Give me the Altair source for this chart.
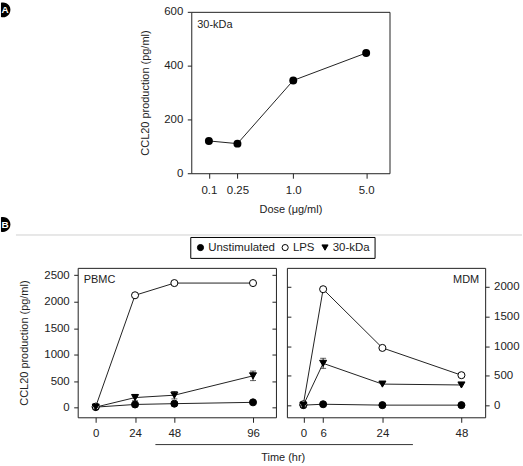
import altair as alt
import pandas as pd

# ---------------- data ----------------
# Panel A: dose response (30-kDa)
dose = [0.1, 0.25, 1.0, 5.0]
dose_ccl20 = [120, 110, 345, 447]

# Panel B
treatments = ["Unstimulated", "LPS", "30-kDa"]
treat_shapes = ["circle", "circle", "triangle-down"]
treat_fills = ["black", "white", "black"]
treat_strokes = ["black", "black", "black"]

pbmc_time = [0, 24, 48, 96]
pbmc_unstim = [10, 60, 75, 100]
pbmc_lps = [20, 2120, 2350, 2350]
pbmc_kda = [10, 190, 235, 600]
pbmc_kda_err = [0, 60, 70, 90]

mdm_time = [0, 6, 24, 48]
mdm_unstim = [5, 20, 5, 5]
mdm_lps = [20, 1960, 970, 510]
mdm_kda = [5, 710, 360, 345]
mdm_kda_err = [0, 85, 0, 0]

a_yticks = [0, 200, 400, 600]
pbmc_yticks = [0, 500, 1000, 1500, 2000, 2500]
mdm_yticks = [0, 500, 1000, 1500, 2000]

# ---------------- styling ----------------
FONT = "Liberation Sans"
TXT = "#222222"
LINE = "#222222"
DISC = "M-0.27,-0.963 A1,1 0 1,1 -0.27,0.963 Z"

one = pd.DataFrame({"k": [0]})


def panel_df(time, unstim, lps, kda):
    rows = []
    for name, vals in zip(treatments, [unstim, lps, kda]):
        for t, v in zip(time, vals):
            rows.append({"time": t, "value": v, "treatment": name})
    return pd.DataFrame(rows)


def err_df(time, kda, err):
    rows = []
    for t, v, e in zip(time, kda, err):
        if e > 0:
            rows.append({"time": t, "lo": v - e, "hi": v + e})
    return pd.DataFrame(rows)


legend = alt.Legend(
    orient="none", legendX=113, legendY=226, direction="horizontal", columns=3,
    title=None, labelFont=FONT, labelFontSize=11.5, labelColor=TXT,
    symbolSize=38, symbolStrokeWidth=1,
    strokeColor="black", fillColor="white", padding=4.5, columnPadding=4,
    labelOffset=2,
)
shape_enc = alt.Shape("treatment:N", scale=alt.Scale(domain=treatments, range=treat_shapes), legend=legend)
fill_enc = alt.Fill("treatment:N", scale=alt.Scale(domain=treatments, range=treat_fills), legend=legend)
stroke_enc = alt.Stroke("treatment:N", scale=alt.Scale(domain=treatments, range=treat_strokes), legend=legend)


def disc(x, y, letter):
    d = alt.Chart(one).mark_point(shape=DISC, size=225, filled=True, color="black",
                                  opacity=1, strokeWidth=0).encode(x=alt.value(x), y=alt.value(y))
    t = alt.Chart(one).mark_text(text=letter, color="white", fontWeight="bold", fontSize=10,
                                 align="left", baseline="middle", font=FONT).encode(
        x=alt.value(x - 1.5), y=alt.value(y + 0.5))
    return [d, t]


def label(text, x, y, align="left"):
    return alt.Chart(one).mark_text(text=text, font=FONT, fontSize=11, color=TXT,
                                    align=align, baseline="middle").encode(x=alt.value(x), y=alt.value(y))


# ---------------- panel A ----------------
dfa = pd.DataFrame({"dose": dose, "ccl20": dose_ccl20})
xa = alt.X("dose:Q",
           scale=alt.Scale(type="symlog", constant=0.08, domain=[0.0438, 8.26], nice=False, zero=False),
           axis=alt.Axis(values=dose, title="Dose (\u03bcg/ml)", tickSize=5, labelPadding=6.5,
                         titlePadding=7.5,
                         labelExpr="datum.value < 1 ? format(datum.value, '~g') : format(datum.value, '.1f')"))
ya = alt.Y("ccl20:Q", scale=alt.Scale(domain=[0, 600], nice=False),
           axis=alt.Axis(values=a_yticks, title="CCL20 production (pg/ml)", tickSize=4, format="d",
                         labelPadding=4.5, titlePadding=13.5))
a_line = alt.Chart(dfa).mark_line(color=LINE, strokeWidth=1).encode(x=xa, y=ya)
a_pts = alt.Chart(dfa).mark_point(filled=True, color="black", size=64, opacity=1).encode(x=xa, y=ya)
chart_a = alt.layer(a_line, a_pts, label("30-kDa", 6, 13)).properties(width=199, height=162)

spacer = alt.layer(*disc(-75, -2, "A")).properties(
    width=60, height=1, view=alt.ViewBackground(stroke="transparent"))

row_a = alt.hconcat(spacer, chart_a, spacing=0)


# ---------------- panel B ----------------
def bpanel(df, edf, xdom, xticks, ydom, yticks, left_labels, extras):
    x = alt.X("time:Q", scale=alt.Scale(domain=xdom, nice=False, zero=False),
              axis=alt.Axis(values=xticks, title=None, tickSize=5, labelPadding=5))
    ysc = alt.Scale(domain=ydom, nice=False, zero=False)
    if left_labels:
        ax_main = alt.Axis(orient="left", values=yticks, title="CCL20 production (pg/ml)", format="d",
                           tickSize=4, labelPadding=4.5, titlePadding=14.5)
        ax_in = alt.Axis(orient="right", values=yticks, labels=False, title=None,
                         tickSize=4, offset=-4)
    else:
        ax_main = alt.Axis(orient="right", values=yticks, title=None, tickSize=4, labelPadding=4.5,
                           format="d")
        ax_in = alt.Axis(orient="left", values=yticks, labels=False, title=None,
                         tickSize=4, offset=-4)
    lines = alt.Chart(df).mark_line(color=LINE, strokeWidth=1).encode(
        x=x, y=alt.Y("value:Q", scale=ysc, axis=ax_main), detail="treatment:N")
    rule = alt.Chart(edf).mark_rule(color=LINE, strokeWidth=1).encode(
        x=x, y=alt.Y("lo:Q", scale=ysc, axis=None), y2="hi:Q")
    cap_hi = alt.Chart(edf).mark_tick(orient="horizontal", size=6, thickness=1, color=LINE).encode(
        x=x, y=alt.Y("hi:Q", scale=ysc, axis=None))
    cap_lo = alt.Chart(edf).mark_tick(orient="horizontal", size=6, thickness=1, color=LINE).encode(
        x=x, y=alt.Y("lo:Q", scale=ysc, axis=None))
    pts = alt.Chart(df).mark_point(filled=True, strokeWidth=1, size=50, opacity=1).encode(
        x=x, y=alt.Y("value:Q", scale=ysc, axis=ax_in), shape=shape_enc, fill=fill_enc,
        stroke=stroke_enc)
    return alt.layer(*extras[0], lines, rule, cap_hi, cap_lo, pts, *extras[1]).resolve_scale(
        y="shared").resolve_axis(y="independent").properties(width=199, height=150)


sep = alt.Chart(one).mark_rule(color="#d0d0d0", strokeWidth=1).encode(
    x=alt.value(-62), x2=alt.value(446), y=alt.value(-33))

pbmc = bpanel(panel_df(pbmc_time, pbmc_unstim, pbmc_lps, pbmc_kda),
              err_df(pbmc_time, pbmc_kda, pbmc_kda_err),
              [-11, 110], pbmc_time, [-182, 2637], pbmc_yticks, True,
              ([sep] + disc(-75, -43.5, "B"), [label("PBMC", 6, 12)]))

time_line = alt.Chart(one).mark_rule(color="#333333", strokeWidth=1).encode(
    x=alt.value(-132), x2=alt.value(126.5), y=alt.value(177.4))
time_title = label("Time (hr)", -3.7, 191, align="center")

mdm = bpanel(panel_df(mdm_time, mdm_unstim, mdm_lps, mdm_kda),
             err_df(mdm_time, mdm_kda, mdm_kda_err),
             [-5, 55.2], mdm_time, [-200, 2320], mdm_yticks, False,
             ([time_line], [label("MDM", 193, 12.5, align="right"), time_title]))

row_b = alt.hconcat(pbmc, mdm, spacing=11, bounds="flush")

chart = alt.vconcat(row_a, row_b, spacing=1).properties(
    padding={"left": 0, "top": 0, "right": 0, "bottom": 0}
).configure_view(stroke="#222222", strokeWidth=1).configure_axis(
    labelFont=FONT, labelFontSize=11.5, labelColor=TXT, titleFont=FONT, titleFontSize=11,
    titleFontWeight="normal", titleColor=TXT, tickColor=LINE, tickWidth=1, grid=False, domain=False
).configure_text(font=FONT)

chart.save("out.html", embed_options={"renderer": "svg", "actions": False})
